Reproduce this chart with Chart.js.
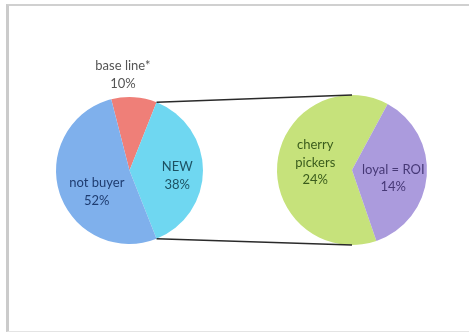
<!DOCTYPE html>
<html>
<head>
<meta charset="utf-8">
<script src="https://cdn.jsdelivr.net/npm/chart.js@4"></script>
<style>
  body { margin: 0; background: #fff; }
  #wrap { position: relative; width: 469px; height: 333px; overflow: hidden; background: #fff; }
  #frame {
    position: absolute; left: 6px; top: 4px; width: 480px; height: 325px;
    border-left: 3px solid #cbcbcb; border-top: 2px solid #d0d0d0; border-bottom: 1px solid #e4e4e4;
  }
  canvas { position: absolute; left: 0; top: 0; }
</style>
</head>
<body>
<div id="wrap">
  <div id="frame"></div>
  <canvas id="mainPie" width="469" height="333"></canvas>
  <canvas id="splitPie" width="469" height="333"></canvas>
</div>
<script>
// main pie: NEW is the slice that gets broken out into the second pie
const mainLabels = ['base line*', 'NEW', 'not buyer'];
const mainValues = [10, 38, 52];
const mainColors = ['#ef7f78', '#6fd7f1', '#7fb0ec'];

// breakdown of NEW
const splitLabels = ['cherry pickers', 'loyal = ROI'];
const splitValues = [24, 14];
const splitColors = ['#c6e27b', '#ab9bdd'];

const FONT = '13px Lato, "Open Sans", sans-serif';

// text label for each slice, placed relative to the pie centre (in radii)
const sliceLabels = {
  id: 'sliceLabels',
  afterDatasetsDraw(chart, args, opts) {
    const ctx = chart.ctx;
    const ds = chart.data.datasets[0];
    chart.getDatasetMeta(0).data.forEach((arc, i) => {
      const p = opts.place[i];
      const r = arc.outerRadius;
      const x = arc.x + p.dx * r;
      const y = arc.y + p.dy * r;
      const name = chart.data.labels[i];
      const lines = (p.wrap ? name.split(' ') : [name]).concat([ds.data[i] + '%']);
      ctx.save();
      ctx.font = FONT;
      ctx.fillStyle = p.color;
      ctx.textAlign = 'center';
      ctx.textBaseline = 'middle';
      const lh = 17.5;
      const top = y - (lines.length - 1) * lh / 2;
      lines.forEach((t, k) => ctx.fillText(t, x, top + k * lh));
      ctx.restore();
    });
  }
};

const baseOptions = (padding, rotation, place) => ({
  responsive: false,
  animation: false,
  rotation: rotation,
  layout: { padding: padding },
  plugins: {
    legend: { display: false },
    tooltip: { enabled: false },
    sliceLabels: { place: place }
  }
});

const mainChart = new Chart(document.getElementById('mainPie'), {
  type: 'pie',
  data: {
    labels: mainLabels,
    datasets: [{ data: mainValues, backgroundColor: mainColors, borderWidth: 0 }]
  },
  options: baseOptions({ left: 56, right: 266, top: 97, bottom: 89 }, -14.4, [
    { dx: -0.09, dy: -1.30, color: '#555555' },
    { dx: 0.65, dy: 0.075, color: '#1d5263' },
    { dx: -0.445, dy: 0.29, color: '#1f3c70' }
  ]),
  plugins: [sliceLabels]
});

// lines joining the NEW slice to the top and bottom of the breakdown pie
const connectors = {
  id: 'connectors',
  afterDraw(chart) {
    const src = mainChart.getDatasetMeta(0).data[1];
    const dst = chart.getDatasetMeta(0).data[0];
    const a0 = src.startAngle, a1 = src.endAngle, r = src.outerRadius;
    const ctx = chart.ctx;
    ctx.save();
    ctx.strokeStyle = '#2a2a2a';
    ctx.lineWidth = 1.5;
    ctx.beginPath();
    ctx.moveTo(src.x + r * Math.cos(a0), src.y + r * Math.sin(a0));
    ctx.lineTo(dst.x, dst.y - dst.outerRadius);
    ctx.moveTo(src.x + r * Math.cos(a1), src.y + r * Math.sin(a1));
    ctx.lineTo(dst.x, dst.y + dst.outerRadius);
    ctx.stroke();
    ctx.restore();
  }
};

new Chart(document.getElementById('splitPie'), {
  type: 'pie',
  data: {
    labels: splitLabels,
    datasets: [{ data: splitValues, backgroundColor: splitColors, borderWidth: 0 }]
  },
  options: baseOptions({ left: 277, right: 42, top: 95, bottom: 88 }, 161, [
    { dx: -0.49, dy: -0.10, color: '#3a5c1c', wrap: true },
    { dx: 0.55, dy: 0.11, color: '#463876' }
  ]),
  plugins: [sliceLabels, connectors]
});
</script>
</body>
</html>
